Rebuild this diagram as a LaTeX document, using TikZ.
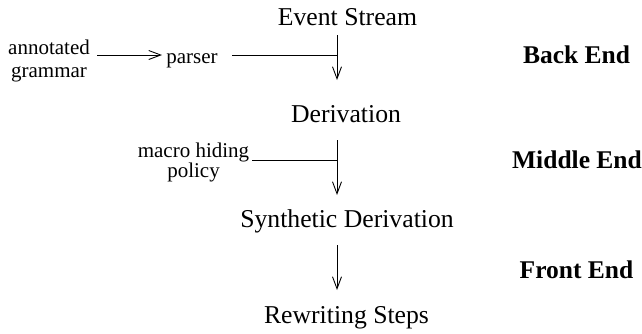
\documentclass[tikz,border=0pt]{standalone}
\usepackage{fontspec}
\setmainfont{Liberation Serif}
\usetikzlibrary{arrows.meta}
\newcommand{\twolines}[2]{\begin{tabular}[b]{@{}c@{}}#1\\#2\end{tabular}}
\begin{document}
\begin{tikzpicture}[x=1pt,y=-1pt,
  stage/.style={anchor=base,inner sep=0pt,font=\fontsize{25.7}{30}\selectfont},
  side/.style={anchor=base,inner sep=0pt,font=\fontsize{21}{23}\selectfont},
  phase/.style={anchor=base,inner sep=0pt,font=\fontsize{25.5}{30}\selectfont\bfseries},
  flow/.style={line width=0.9pt,-{Straight Barb[length=12pt,width=9pt,line width=0.9pt]}},
  feed/.style={line width=0.9pt}]
\useasboundingbox (0,0) rectangle (642,333);

% pipeline stages
\node[stage] (es)  at (347.5,25)  {Event Stream};
\node[stage] (der) at (346,122)   {Derivation};
\node[stage] (syn) at (347,227)   {Synthetic Derivation};
\node[stage] (rw)  at (346.5,323) {Rewriting Steps};

% inputs feeding the transformations (base = last line's baseline)
\node[side] (ann) at (49,77) {\twolines{annotated}{grammar}};
\node[side] (par) at (192,63) {parser};
\node[side,font=\fontsize{21}{17}\selectfont] (mhp) at (193.5,177) {\twolines{macro hiding}{policy}};

% phase labels
\node[phase] (be) at (576.5,63)  {Back End};
\node[phase] (me) at (577,168)   {Middle End};
\node[phase] (fe) at (576.5,278) {Front End};

% arrow end points
\coordinate (s1) at (337,35);   \coordinate (e1) at (337,80);
\coordinate (j1) at (337,55);   \coordinate (p1) at (232,55);
\coordinate (s2) at (337,140);  \coordinate (e2) at (337,195);
\coordinate (j2) at (337,160);  \coordinate (p2) at (252,160);
\coordinate (s3) at (337,245);  \coordinate (e3) at (337,290);
\coordinate (a0) at (97,55);    \coordinate (a1) at (162,55);

\draw[flow] (a0) -- (a1);
\draw[flow] (s1) -- (e1);
\draw[feed] (p1) -- (j1);
\draw[flow] (s2) -- (e2);
\draw[feed] (p2) -- (j2);
\draw[flow] (s3) -- (e3);
\end{tikzpicture}
\end{document}
